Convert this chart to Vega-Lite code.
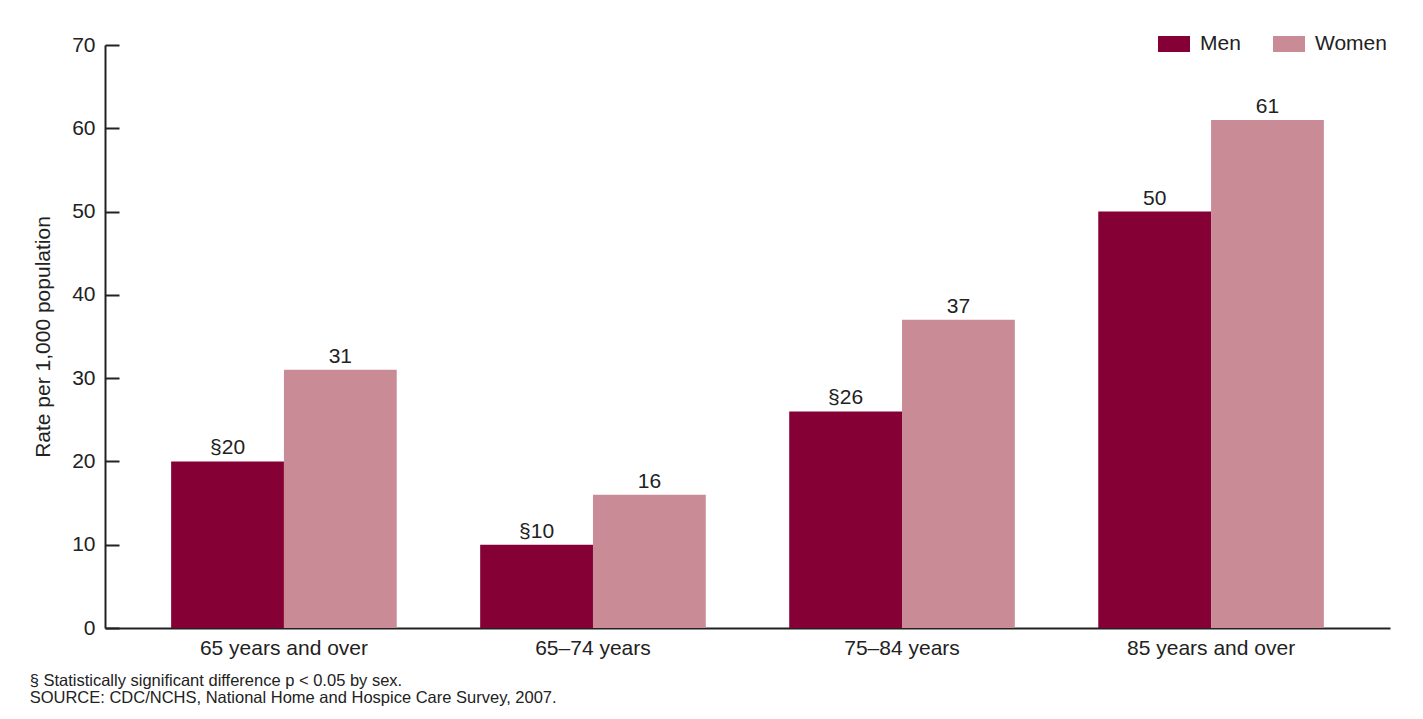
{
  "$schema": "https://vega.github.io/schema/vega-lite/v6.json",
  "width": 1285,
  "height": 583,
  "autosize": {"type": "none"},
  "padding": {"left": 105, "top": 45, "right": 33, "bottom": 91},
  "background": "white",
  "config": {
    "font": "Liberation Sans",
    "view": {"stroke": null},
    "axis": {"labelColor": "#222", "titleColor": "#222", "labelFont": "Liberation Sans", "titleFont": "Liberation Sans"}
  },
  "title": {
    "text": ["§ Statistically significant difference p < 0.05 by sex.", "SOURCE: CDC/NCHS, National Home and Hospice Care Survey, 2007."],
    "orient": "bottom",
    "anchor": "start",
    "frame": "bounds",
    "fontSize": 16.5,
    "fontWeight": "normal",
    "color": "#222",
    "lineHeight": 17,
    "offset": 15,
    "dx": -3
  },
  "data": {
    "values": [
      {"age": "65 years and over", "sex": "Men", "rate": 20, "label": "§20"},
      {"age": "65 years and over", "sex": "Women", "rate": 31, "label": "31"},
      {"age": "65–74 years", "sex": "Men", "rate": 10, "label": "§10"},
      {"age": "65–74 years", "sex": "Women", "rate": 16, "label": "16"},
      {"age": "75–84 years", "sex": "Men", "rate": 26, "label": "§26"},
      {"age": "75–84 years", "sex": "Women", "rate": 37, "label": "37"},
      {"age": "85 years and over", "sex": "Men", "rate": 50, "label": "50"},
      {"age": "85 years and over", "sex": "Women", "rate": 61, "label": "61"}
    ]
  },
  "encoding": {
    "x": {
      "field": "age",
      "type": "nominal",
      "sort": null,
      "scale": {"paddingInner": 0.27, "paddingOuter": 0.214},
      "axis": {
        "title": null,
        "labelAngle": 0,
        "labelFontSize": 21,
        "labelPadding": 9,
        "ticks": false,
        "domainColor": "#222",
        "domainWidth": 2
      }
    },
    "xOffset": {"field": "sex", "type": "nominal", "scale": {"paddingInner": 0, "paddingOuter": 0}},
    "y": {
      "field": "rate",
      "type": "quantitative",
      "scale": {"domain": [0, 70], "nice": false},
      "axis": {
        "title": "Rate per 1,000 population",
        "titleFontSize": 21,
        "titleFontWeight": "normal",
        "titlePadding": 18,
        "values": [0, 10, 20, 30, 40, 50, 60, 70],
        "labelFontSize": 21,
        "tickSize": -14,
        "tickWidth": 2,
        "tickColor": "#222",
        "labelPadding": 24,
        "domainColor": "#222",
        "domainWidth": 2,
        "grid": false
      }
    }
  },
  "layer": [
    {
      "mark": {"type": "bar"},
      "encoding": {
        "color": {
          "field": "sex",
          "type": "nominal",
          "scale": {"domain": ["Men", "Women"], "range": ["#850034", "#C98C97"]},
          "legend": {
            "title": null,
            "orient": "none",
            "direction": "horizontal",
            "legendX": 1053,
            "legendY": -17,
            "symbolType": "M-1,-0.5H1V0.5H-1Z",
            "symbolSize": 1024,
            "symbolStrokeWidth": 0,
            "labelFontSize": 21,
            "labelColor": "#222",
            "labelOffset": 10,
            "columnPadding": 32,
            "symbolOpacity": 1
          }
        }
      }
    },
    {
      "mark": {"type": "text", "baseline": "bottom", "dy": -3, "fontSize": 21, "color": "#222"},
      "encoding": {"text": {"field": "label"}}
    }
  ]
}
